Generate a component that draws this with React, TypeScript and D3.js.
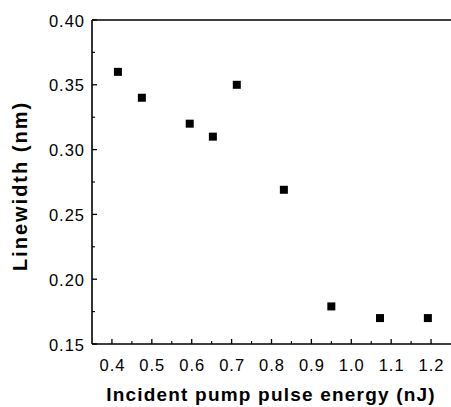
import React from "react";
import * as d3 from "d3";

const energy = [0.415, 0.475, 0.595, 0.653, 0.713, 0.831, 0.95, 1.072, 1.192];
const linewidth = [0.36, 0.34, 0.32, 0.31, 0.35, 0.269, 0.179, 0.17, 0.17];
const xTicks = [0.4, 0.5, 0.6, 0.7, 0.8, 0.9, 1.0, 1.1, 1.2];
const yTicks = [0.15, 0.2, 0.25, 0.3, 0.35, 0.4];
const xMinor = [0.45, 0.55, 0.65, 0.75, 0.85, 0.95, 1.05, 1.15];
const yMinor = [0.175, 0.225, 0.275, 0.325, 0.375];

export default function App() {
  const W = 451, H = 407;
  const left = 92, right = 451, top = 20, bottom = 344;
  const x = d3.scaleLinear().domain([0.35, 1.25]).range([left, right]);
  const y = d3.scaleLinear().domain([0.15, 0.4]).range([bottom, top]);
  const font = "'Liberation Sans', Arial, Helvetica, sans-serif";
  const ms = 8;
  return (
    <svg width={W} height={H} style={{ position: "absolute", left: 0, top: 0, background: "#fff" }}>
      <g stroke="#000" strokeWidth={1.6} fill="none">
        <line x1={left} x2={left} y1={top} y2={bottom} />
        <line x1={left} x2={right} y1={bottom} y2={bottom} />
        <line x1={left} x2={right} y1={top} y2={top} />
        {xTicks.map((t) => (
          <line key={"xt" + t} x1={x(t)} x2={x(t)} y1={bottom} y2={bottom - 5} strokeWidth={1.3} />
        ))}
        {xMinor.map((t) => (
          <line key={"xm" + t} x1={x(t)} x2={x(t)} y1={bottom} y2={bottom - 3} strokeWidth={1.1} />
        ))}
        {yTicks.map((t) => (
          <line key={"yt" + t} x1={left} x2={left + 5} y1={y(t)} y2={y(t)} strokeWidth={1.3} />
        ))}
        {yMinor.map((t) => (
          <line key={"ym" + t} x1={left} x2={left + 3} y1={y(t)} y2={y(t)} strokeWidth={1.1} />
        ))}
      </g>
      <g fontFamily={font} fontSize={16.5} fill="#000" letterSpacing={1}>
        {xTicks.map((t) => (
          <text key={"xl" + t} x={x(t) + 0.5} y={bottom + 27} textAnchor="middle">
            {t.toFixed(1)}
          </text>
        ))}
        {yTicks.map((t) => (
          <text key={"yl" + t} x={left - 7} y={y(t) + 6.5} textAnchor="end">
            {t.toFixed(2)}
          </text>
        ))}
      </g>
      <text
        x={271}
        y={401}
        textAnchor="middle"
        fontFamily={font}
        fontWeight="bold"
        fontSize={19}
        letterSpacing={1.2}
      >
        Incident pump pulse energy (nJ)
      </text>
      <text
        transform={`translate(27,186) rotate(-90)`}
        textAnchor="middle"
        fontFamily={font}
        fontWeight="bold"
        fontSize={20}
        letterSpacing={2}
      >
        Linewidth (nm)
      </text>
      <g fill="#000">
        {energy.map((e, i) => (
          <rect key={"p" + i} x={x(e) - ms / 2} y={y(linewidth[i]) - ms / 2} width={ms} height={ms} />
        ))}
      </g>
    </svg>
  );
}
